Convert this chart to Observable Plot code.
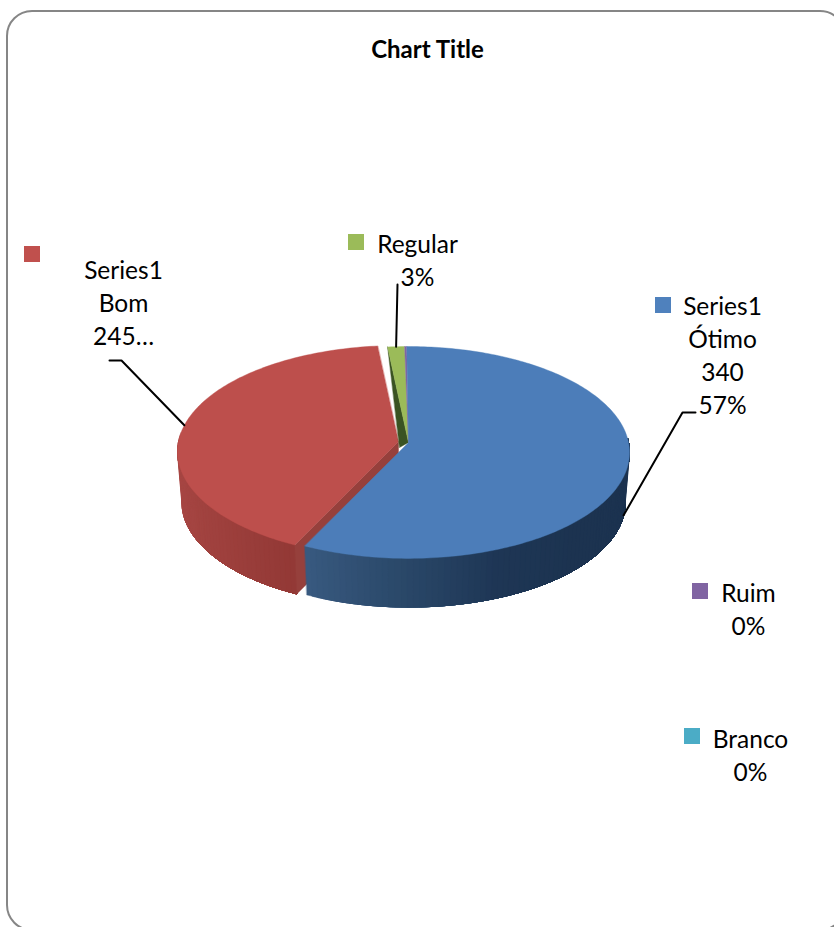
<!DOCTYPE html>
<html>
<head>
<meta charset="utf-8">
<script src="https://cdn.jsdelivr.net/npm/d3@7"></script>
<script src="https://cdn.jsdelivr.net/npm/@observablehq/plot@0.6"></script>
<style>html,body{margin:0;padding:0;background:#fff}svg{display:block}</style>
</head>
<body>
<div id="chart"></div>
<script>
// ---- data ----
const categories = ["Ótimo", "Bom", "Regular", "Ruim", "Branco"];
const values = [340, 245, 8, 1, 0];
const labelTexts = ["Series1\nÓtimo\n340\n57%", "Series1\nBom\n245…", "Regular\n3%", "Ruim\n0%", "Branco\n0%"];
const chartTitle = "Chart Title";

// ---- colours ----
const faceColors = ["#4c7db9", "#bd4f4c", "#9bbb59", "#8064a2", "#4bacc6"];
const swatchColors = ["#4f81bd", "#c0504d", "#9bbb59", "#8064a2", "#4bacc6"];
const wallRamps = {
  "Ótimo": ["#1c3350", "#1c3350", "#1c3350", "#1e3655", "#2a4869", "#38597f"],
  "Bom": ["#933936", "#9e403d", "#a64643", "#ab4a47"]
};

// ---- view of the tilted pie ----
const view = {rx: 220, ry: 105, k: 0.094, depth: 51, taper: 0.02, start: -0.5};
const explode = {
  "Ótimo": [408, 442], "Bom": [398, 441], "Regular": [408, 442], "Ruim": [408, 442], "Branco": [408, 442]
};
const rad = Math.PI / 180;
function project(cat, deg, lift = 0) {
  const [cx, cy] = explode[cat];
  const s = 1 / (1 + view.k * Math.cos(deg * rad)) * (1 - view.taper * lift);
  return [cx + view.rx * Math.sin(deg * rad) * s, cy + lift * view.depth - view.ry * Math.cos(deg * rad) * s];
}
const arcs = d3.pie().sort(null).startAngle(view.start * rad).endAngle((360 + view.start) * rad)(values);
const slice = Object.fromEntries(categories.map((c, i) => [c, {a0: arcs[i].startAngle / rad, a1: arcs[i].endAngle / rad}]));

// ---- polygons ----
const rows = [];
let pid = 0;
function poly(points, paint) {
  const id = pid++;
  for (const [x, y] of points) rows.push({id, x, y, paint});
}
function arcPoints(cat, a0, a1, lift = 0) {
  const n = Math.max(2, Math.ceil(Math.abs(a1 - a0)));
  return d3.range(n + 1).map(i => project(cat, a0 + (a1 - a0) * i / n, lift));
}
function wedge(cat, paint) {
  const {a0, a1} = slice[cat];
  poly([explode[cat], ...arcPoints(cat, a0, a1)], paint);
}
// The wall is painted as overlapping bands, each laid over the previous one, so no seam shows.
function wall(cat, aDark, aLight) {
  const ramp = d3.piecewise(d3.interpolateRgb, wallRamps[cat]);
  const n = Math.ceil(Math.abs(aLight - aDark) / 1.5);
  for (let i = n - 1; i >= 0; i--) {
    const p = aDark + (aLight - aDark) * (i + 1) / n;
    poly([...arcPoints(cat, p, aDark), ...arcPoints(cat, aDark, p, 1)], ramp(i / (n - 1)));
  }
}
// Bom: outer wall, inner wall, top
wall("Bom", slice["Bom"].a0, 275);
poly([project("Bom", slice["Bom"].a0), explode["Bom"],
      [explode["Bom"][0], explode["Bom"][1] + view.depth],
      project("Bom", slice["Bom"].a0, 1)], "#96403c");
wedge("Bom", faceColors[1]);
// Regular: its dark side wall and top
const regEdge = project("Regular", slice["Regular"].a0);
poly([regEdge, explode["Regular"], [explode["Regular"][0] - 9, explode["Regular"][1] + 5]], "#3a5322");
wedge("Regular", faceColors[2]);
wedge("Ruim", faceColors[3]);
// Ótimo: outer wall then top
wall("Ótimo", 88, slice["Ótimo"].a1);
wedge("Ótimo", faceColors[0]);

// ---- layout of labels ----
const labelLayout = [
  {x: 722, y: 413, sw: [655, 297]},
  {x: 123, y: 344, sw: [24, 246]},
  {x: 417, y: 285, sw: [348, 234]},
  {x: 748, y: 634, sw: [692, 583]},
  {x: 750, y: 780, sw: [684, 728]}
];
const labels = categories.map((c, i) => ({text: labelTexts[i], ...labelLayout[i]}));
const swatches = categories.map((c, i) => ({
  x1: labelLayout[i].sw[0], y1: labelLayout[i].sw[1],
  x2: labelLayout[i].sw[0] + 16, y2: labelLayout[i].sw[1] + 16, paint: swatchColors[i]
}));
const leaderRows = [
  {id: 0, p: project("Ótimo", 102, 1)}, {id: 0, p: [682, 412]}, {id: 0, p: [695, 412]},
  {id: 1, p: project("Bom", 279)}, {id: 1, p: [121, 360]}, {id: 1, p: [109, 360]},
  {id: 2, p: project("Regular", (slice["Regular"].a0 + slice["Regular"].a1) / 2)}, {id: 2, p: [397, 284]}
].map(d => ({id: d.id, x: d.p[0], y: d.p[1]}));

const font = "Lato, Carlito, Calibri, sans-serif";
const chart = Plot.plot({
  width: 834, height: 927,
  margin: 0,
  x: {domain: [0, 834], range: [0, 834], axis: null},
  y: {domain: [0, 927], range: [0, 927], axis: null},
  color: {type: "identity"},
  style: {background: "#fff", fontFamily: font},
  marks: [
    Plot.rect([{x1: 7, x2: 845, y1: 11, y2: 930}], {x1: "x1", x2: "x2", y1: "y1", y2: "y2",
      fill: "#fff", stroke: "#868686", strokeWidth: 2, rx: 25}),
    Plot.line(rows, {x: "x", y: "y", z: "id", fill: "paint", stroke: "paint", strokeWidth: 0.4, curve: "linear-closed"}),
    Plot.line(leaderRows, {x: "x", y: "y", z: "id", stroke: "#000", strokeWidth: 2}),
    Plot.rect(swatches, {x1: "x1", x2: "x2", y1: "y1", y2: "y2", fill: "paint"}),
    Plot.text(labels, {x: "x", y: "y", text: "text", lineAnchor: "bottom", lineHeight: 1.34,
      fontFamily: font, fontSize: 24.5, fill: "#000"}),
    Plot.text([chartTitle], {x: () => 427, y: () => 57, text: d => d, lineAnchor: "bottom",
      fontFamily: font, fontSize: 24, fontWeight: 700, fill: "#000"})
  ]
});
document.getElementById("chart").append(chart);
</script>
</body>
</html>
